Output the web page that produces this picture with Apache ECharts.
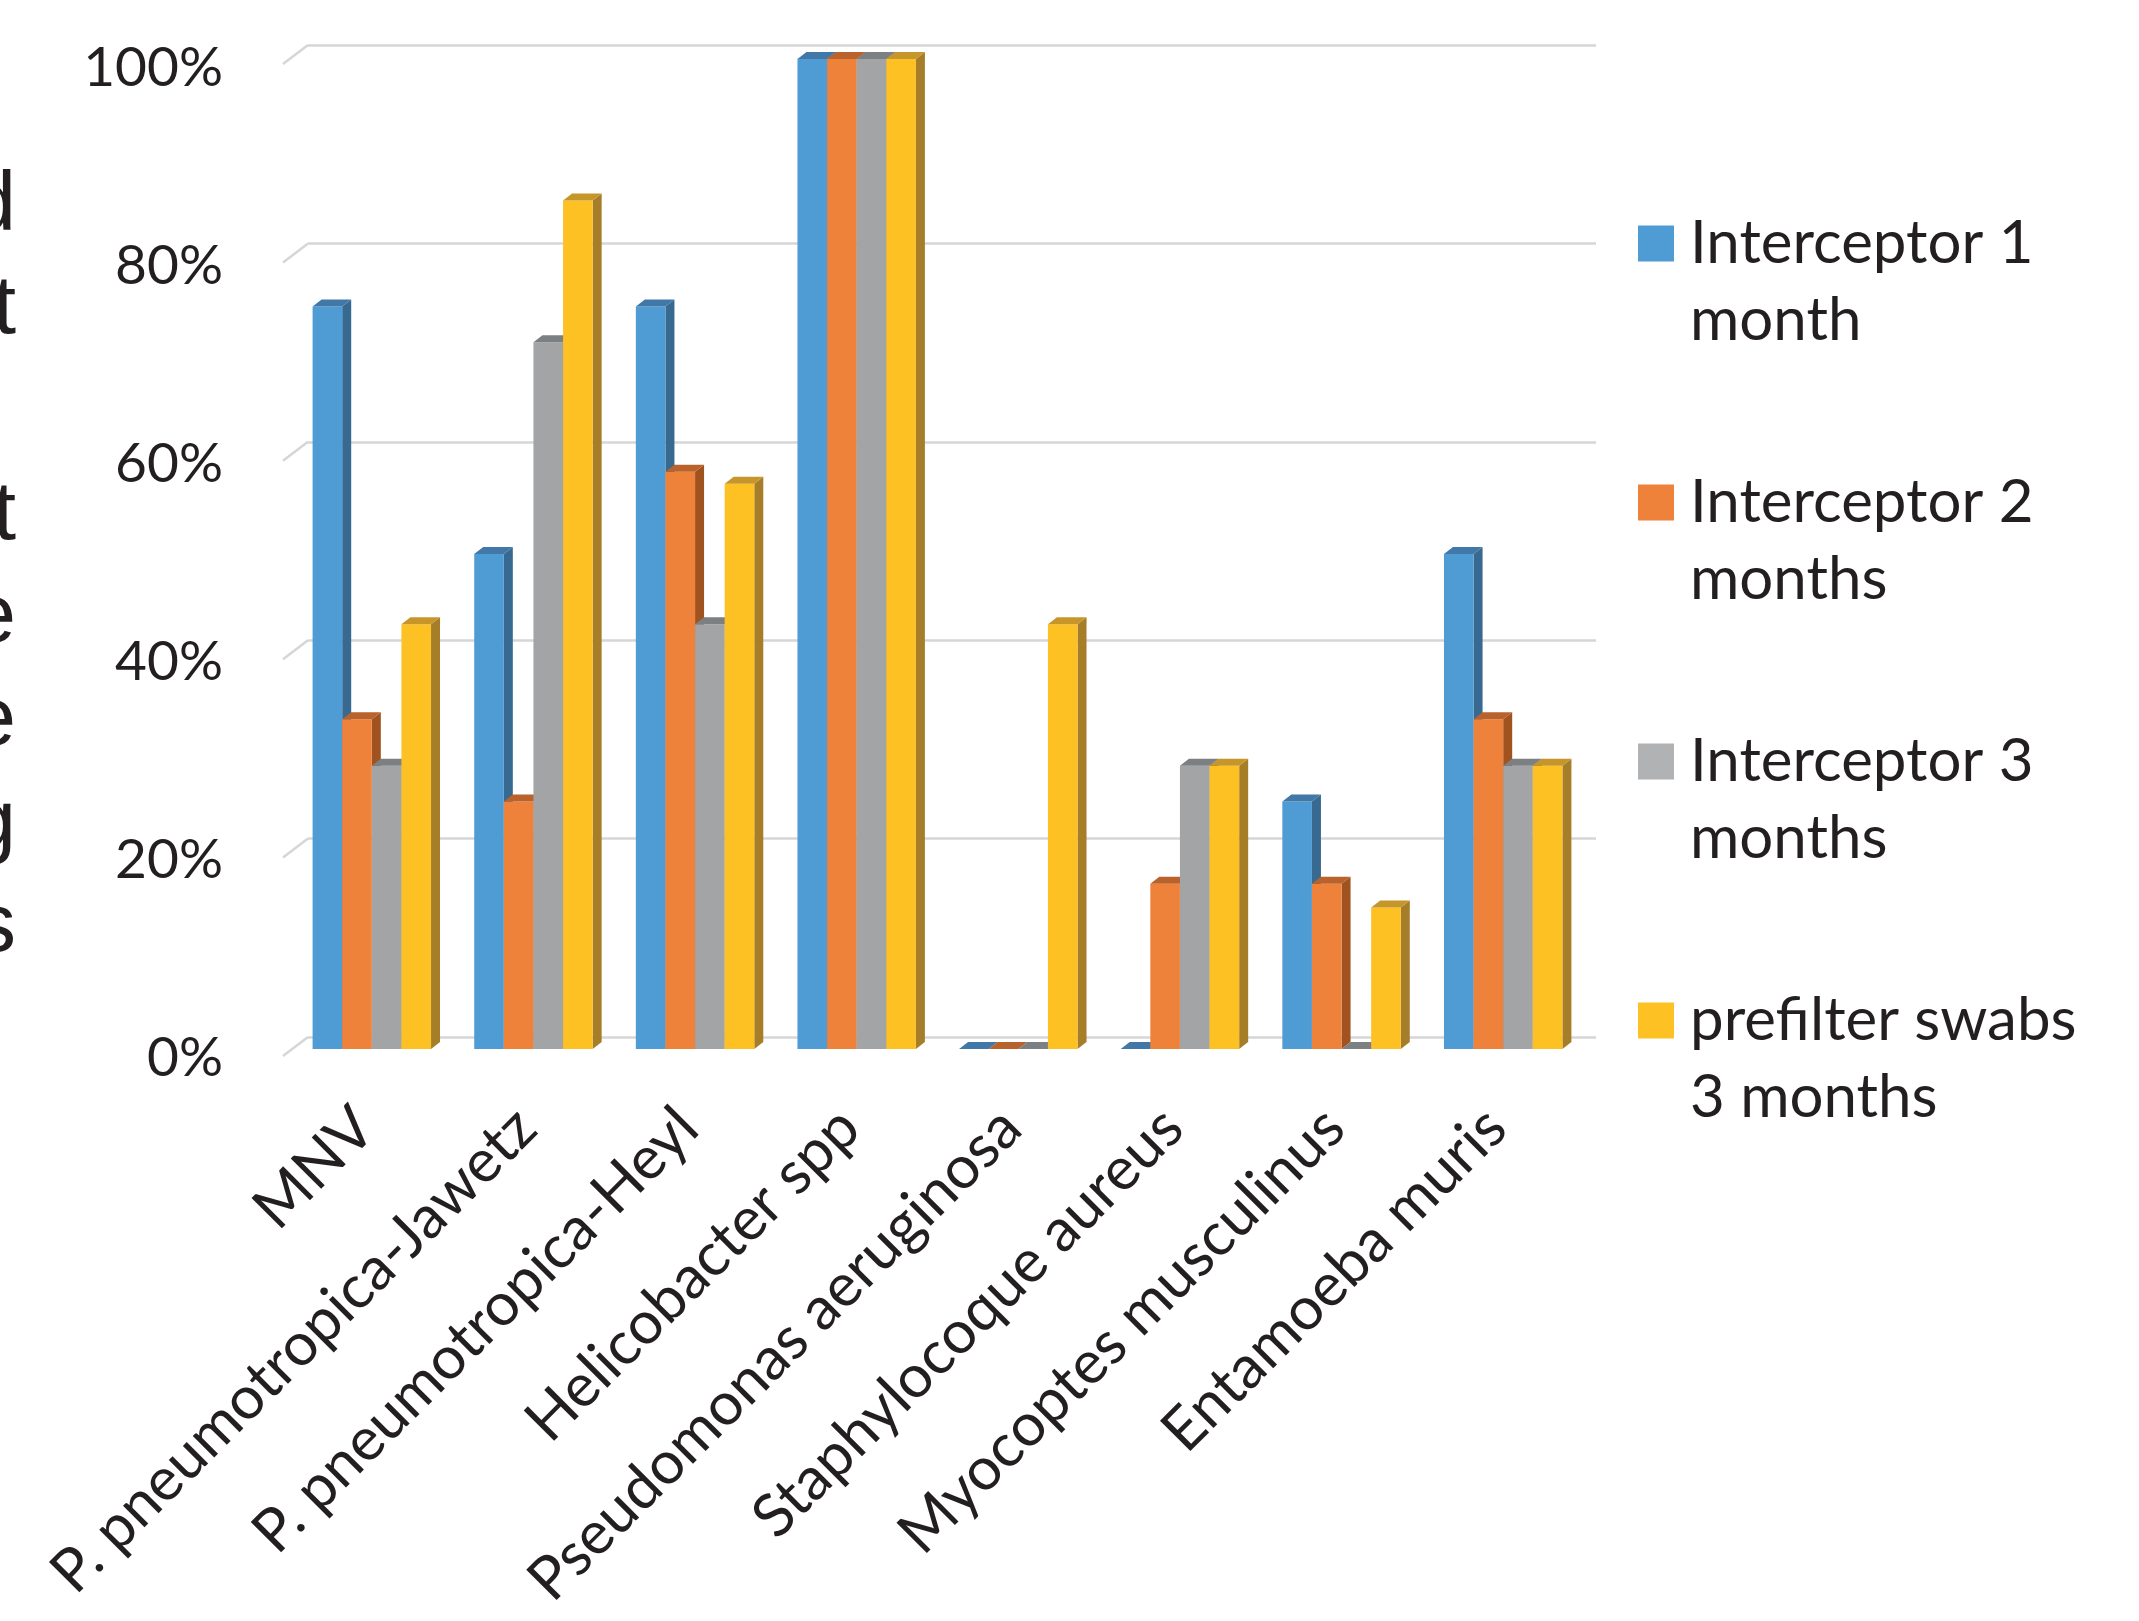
<!DOCTYPE html>
<html>
<head>
<meta charset="utf-8">
<style>
  html, body { margin: 0; padding: 0; background: #ffffff; }
  #chart { width: 2139px; height: 1621px; }
</style>
<script src="https://cdn.jsdelivr.net/npm/echarts@6/dist/echarts.min.js"></script>
</head>
<body>
<div id="chart"></div>
<script>
// ---- data ----
const categories = ['MNV', 'P. pneumotropica-Jawetz', 'P. pneumotropica-Heyl', 'Helicobacter spp',
  'Pseudomonas aeruginosa', 'Staphylocoque aureus', 'Myocoptes musculinus', 'Entamoeba muris'];
const seriesNames = ['Interceptor 1 month', 'Interceptor 2 months', 'Interceptor 3 months', 'prefilter swabs 3 months'];
const legendLabels = ['Interceptor 1\nmonth', 'Interceptor 2\nmonths', 'Interceptor 3\nmonths', 'prefilter swabs\n3 months'];
const interceptor1 = [0.75, 0.50, 0.75, 1.00, 0, 0, 0.25, 0.50];
const interceptor2 = [0.333, 0.25, 0.583, 1.00, 0, 0.167, 0.167, 0.333];
const interceptor3 = [0.286, 0.714, 0.429, 1.00, 0, 0.286, 0, 0.286];
const prefilter    = [0.429, 0.857, 0.571, 1.00, 0.429, 0.286, 0.143, 0.286];
const yTicks = [0, 0.2, 0.4, 0.6, 0.8, 1.0];
const yTitleFragments = ['d', 't', '', 't', 'e', 'e', 'g', 's'];

// ---- styles ----
const frontColors = ['#4f9cd4', '#ef823b', '#a3a4a6', '#fdc124'];
const sideColors  = ['#386991', '#a0521f', '#6f7274', '#a67e2a'];
const topColors   = ['#4178a8', '#b9622b', '#7d8083', '#c6962b'];
const legendColors = ['#4f9cd4', '#ef823b', '#b1b2b4', '#fdc124'];
const DX = 9, DY = 7, BAR_FRAC = 0.1832;
const FONT = 'Lato';
const TXT = '#231f20';

const allValues = [interceptor1, interceptor2, interceptor3, prefilter];

function barRenderer(k) {
  return function (params, api) {
    const ci = api.value(0), v = api.value(1);
    const band = api.size([1, 0])[0];
    const bw = band * BAR_FRAC;
    const c = api.coord([ci, v]);
    const b = api.coord([ci, 0]);
    const x0 = c[0] - 2 * bw + k * bw;
    const x1 = x0 + bw;
    const top = c[1], base = b[1];
    return {
      type: 'group',
      children: [
        { type: 'polygon', shape: { points: [[x1, top], [x1 + DX, top - DY], [x1 + DX, base - DY], [x1, base]] },
          style: { fill: sideColors[k] } },
        { type: 'rect', shape: { x: x0, y: top, width: bw, height: base - top },
          style: { fill: frontColors[k] } },
        { type: 'polygon', shape: { points: [[x0, top], [x0 + DX, top - DY], [x1 + DX, top - DY], [x1, top]] },
          style: { fill: topColors[k] } }
      ]
    };
  };
}

const series = allValues.map((vals, k) => ({
  name: seriesNames[k],
  type: 'custom',
  xAxisIndex: 1,
  yAxisIndex: 1,
  itemStyle: { color: legendColors[k] },
  renderItem: barRenderer(k),
  encode: { x: 0, y: 1 },
  data: vals.map((v, i) => [i, v]),
  z: 3
}));

// slanted floor ticks at the left wall
series.push({
  type: 'custom',
  xAxisIndex: 0,
  yAxisIndex: 0,
  silent: true,
  z: 1,
  renderItem: function (params, api) {
    const p = api.coord([0, api.value(0)]);
    return { type: 'line', shape: { x1: p[0] - 25, y1: p[1] + 19, x2: p[0], y2: p[1] },
      style: { stroke: '#d6d6d6', lineWidth: 2.5 } };
  },
  encode: { y: 0 },
  data: yTicks.map(v => [v])
});

const chart = echarts.init(document.getElementById('chart'), null, { renderer: 'canvas' });
chart.setOption({
  backgroundColor: '#ffffff',
  animation: false,
  grid: [
    { left: 308, right: 543, top: 45, bottom: 584, outerBoundsMode: 'none', containLabel: false },
    { left: 291, right: 555, top: 59, bottom: 572, outerBoundsMode: 'none', containLabel: false },
    { left: 291, right: 555, top: 68, bottom: 563, outerBoundsMode: 'none', containLabel: false }
  ],
  xAxis: [
    { gridIndex: 0, type: 'value', min: 0, max: 1, show: false },
    { gridIndex: 1, type: 'category', data: categories,
      axisLine: { show: false }, axisTick: { show: false }, splitLine: { show: false },
      axisLabel: { interval: 0, rotate: 45, fontFamily: FONT, fontSize: 60, color: TXT,
        margin: 62, padding: [44, 10, 0, 0] } },
    { gridIndex: 2, type: 'value', min: 0, max: 1, show: false }
  ],
  yAxis: [
    { gridIndex: 0, type: 'value', min: 0, max: 1, interval: 0.2,
      axisLine: { show: false }, axisTick: { show: false }, axisLabel: { show: false },
      splitLine: { show: true, lineStyle: { color: '#d6d6d6', width: 2.5 } } },
    { gridIndex: 1, type: 'value', min: 0, max: 1, interval: 0.2, show: false },
    { gridIndex: 2, type: 'value', min: 0, max: 1, interval: 0.2,
      axisLine: { show: false }, axisTick: { show: false }, splitLine: { show: false },
      axisLabel: { fontFamily: FONT, fontSize: 55, color: TXT, margin: 68,
        formatter: v => Math.round(v * 100) + '%' } }
  ],
  legend: {
    orient: 'vertical',
    left: 1638,
    top: 205,
    padding: 0,
    itemGap: 105,
    itemWidth: 36,
    itemHeight: 154,
    icon: 'path://M0,20.5L36,20.5L36,56.5L0,56.5Z M0,0L0.01,0L0,0Z M0,154L0.01,154L0,154Z',
    data: seriesNames,
    formatter: name => legendLabels[seriesNames.indexOf(name)],
    textStyle: { fontFamily: FONT, fontSize: 60, lineHeight: 77, color: TXT, padding: [0, 0, 0, 11] },
    selectedMode: false
  },
  graphic: [{
    type: 'text',
    x: 16,
    y: 155,
    style: {
      text: yTitleFragments.join('\n'),
      align: 'right',
      verticalAlign: 'top',
      font: '84px "Liberation Sans"',
      lineHeight: 103,
      fill: TXT
    }
  }],
  series: series
});
</script>
</body>
</html>
